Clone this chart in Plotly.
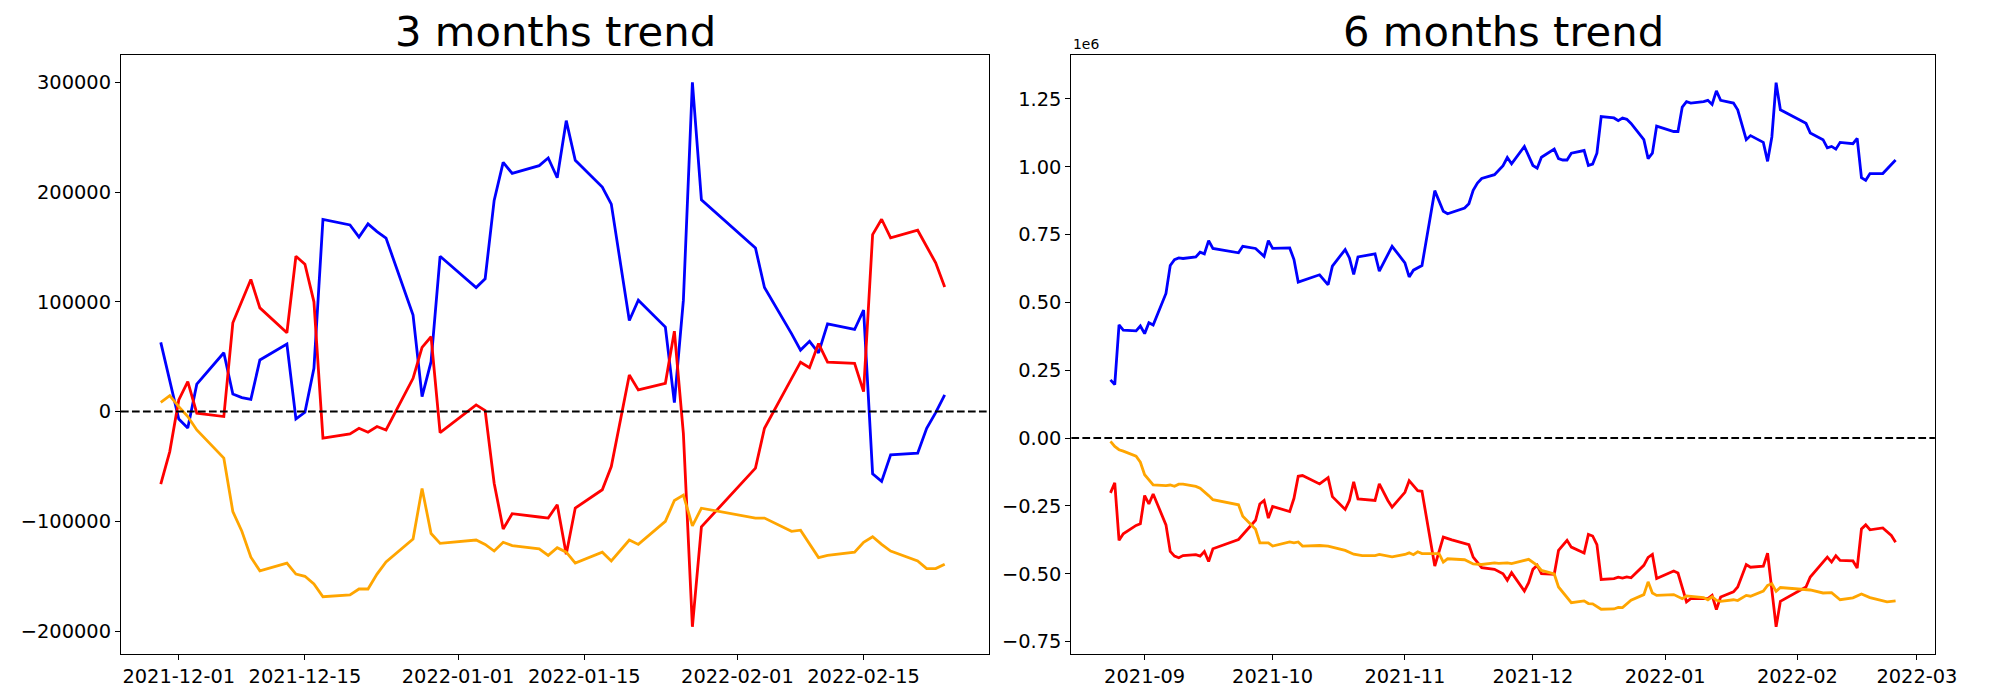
import plotly.graph_objects as go

# ---------------- 3 months trend (left) ----------------
dates3 = ["2021-11-29","2021-11-30","2021-12-01","2021-12-02","2021-12-03","2021-12-06","2021-12-07",
          "2021-12-08","2021-12-09","2021-12-10","2021-12-13","2021-12-14","2021-12-15","2021-12-16",
          "2021-12-17","2021-12-20","2021-12-21","2021-12-22","2021-12-23","2021-12-24","2021-12-27",
          "2021-12-28","2021-12-29","2021-12-30","2022-01-03","2022-01-04","2022-01-05","2022-01-06",
          "2022-01-07","2022-01-10","2022-01-11","2022-01-12","2022-01-13","2022-01-14","2022-01-17",
          "2022-01-18","2022-01-20","2022-01-21","2022-01-24","2022-01-25","2022-01-26","2022-01-27",
          "2022-01-28","2022-02-03","2022-02-04","2022-02-07","2022-02-08","2022-02-09","2022-02-10",
          "2022-02-11","2022-02-14","2022-02-15","2022-02-16","2022-02-17","2022-02-18","2022-02-21",
          "2022-02-22","2022-02-23","2022-02-24"]
blue3 = [63000, 28000, -6700, -15000, 25000, 53600, 16000, 12700, 11200, 47000, 61500, -6700, -600, 39400,
         175000, 170000, 159000, 171000, 164000, 158000, 87900, 13600, 45500, 141500, 113000, 121000, 192400,
         227000, 217000, 224000, 231000, 213000, 265000, 229000, 204500, 189000, 83000, 101500, 77000, 8200,
         101500, 300000, 193000, 149000, 113000, 71000, 56000, 64000, 53500, 80000, 74800, 92400, -56700,
         -63600, -39400, -37900, -15200, -900, 15200]
red3 = [-66000, -36400, 10600, 27300, -1500, -4500, 80900, 101500, 120300, 94500, 71800, 141500, 134200,
        100000, -24200, -20300, -15200, -18800, -13600, -16700, 30300, 58500, 68200, -19100, 6100, 1000,
        -65200, -107000, -93000, -96000, -97000, -84800, -130000, -87900, -71200, -50000, 33300, 19700, 25800,
        73300, -20000, -196000, -105000, -51500, -15200, 30000, 45000, 40000, 62000, 45000, 43900, 18200,
        161200, 175200, 158200, 165200, 150600, 135500, 113600]
orange3 = [8500, 14500, 4500, -4500, -16700, -42400, -91000, -109000, -132600, -145000, -138000, -148000,
           -150000, -157000, -168600, -167000, -161600, -161600, -148000, -137000, -116000, -70000, -111000,
           -120000, -117000, -121000, -127000, -119000, -122000, -125000, -131000, -124000, -128000, -138000,
           -128000, -136000, -117000, -121000, -100000, -81000, -76000, -104000, -88000, -97000, -97000,
           -109000, -108000, -120000, -133000, -131000, -128000, -119000, -114000, -121000, -127000, -136000,
           -143000, -143000, -139000]
ticks3 = ["2021-12-01", "2021-12-15", "2022-01-01", "2022-01-15", "2022-02-01", "2022-02-15"]

# ---------------- 6 months trend (right), values in units of 1e6 ----------------
blue6_dates = ["2021-08-24","2021-08-25","2021-08-26","2021-08-27","2021-08-30","2021-08-31","2021-09-01",
               "2021-09-02","2021-09-03","2021-09-06","2021-09-07","2021-09-08","2021-09-09","2021-09-10",
               "2021-09-13","2021-09-14","2021-09-15","2021-09-16","2021-09-17","2021-09-23","2021-09-24",
               "2021-09-27","2021-09-29","2021-09-30","2021-10-01","2021-10-05","2021-10-06","2021-10-07",
               "2021-10-12","2021-10-14","2021-10-15","2021-10-18","2021-10-19","2021-10-20","2021-10-21",
               "2021-10-25","2021-10-26","2021-10-29","2021-11-01","2021-11-02","2021-11-03","2021-11-05",
               "2021-11-08","2021-11-10","2021-11-11","2021-11-15","2021-11-16","2021-11-17","2021-11-18",
               "2021-11-19","2021-11-22","2021-11-24","2021-11-25","2021-11-26","2021-11-29","2021-11-30",
               "2021-12-01","2021-12-02","2021-12-03","2021-12-06","2021-12-07","2021-12-08","2021-12-09",
               "2021-12-10","2021-12-13","2021-12-14","2021-12-15","2021-12-16","2021-12-17","2021-12-20",
               "2021-12-21","2021-12-22","2021-12-23","2021-12-24","2021-12-27","2021-12-28","2021-12-29",
               "2021-12-30","2022-01-03","2022-01-04","2022-01-05","2022-01-06","2022-01-07","2022-01-10",
               "2022-01-11","2022-01-12","2022-01-13","2022-01-14","2022-01-17","2022-01-18","2022-01-20",
               "2022-01-21","2022-01-24","2022-01-25","2022-01-26","2022-01-27","2022-01-28","2022-02-03",
               "2022-02-04","2022-02-07","2022-02-08","2022-02-09","2022-02-10","2022-02-11","2022-02-14",
               "2022-02-15","2022-02-16","2022-02-17","2022-02-18","2022-02-21","2022-02-24"]
blue6 = [0.2145, 0.197, 0.417, 0.398, 0.395, 0.413, 0.385, 0.425, 0.417, 0.533, 0.636, 0.658, 0.664, 0.662,
         0.668, 0.685, 0.679, 0.728, 0.699, 0.683, 0.707, 0.699, 0.670, 0.728, 0.699, 0.701, 0.658, 0.575,
         0.602, 0.565, 0.634, 0.695, 0.664, 0.603, 0.668, 0.679, 0.615, 0.707, 0.646, 0.594, 0.619, 0.636,
         0.912, 0.836, 0.827, 0.848, 0.864, 0.913, 0.940, 0.957, 0.971, 1.004, 1.034, 1.011, 1.075, 1.04,
         1.005, 0.995, 1.035, 1.065, 1.03, 1.025, 1.025, 1.05, 1.06, 1.005, 1.01, 1.05, 1.185, 1.18,
         1.17, 1.18, 1.175, 1.16, 1.10, 1.03, 1.05, 1.15, 1.13, 1.13, 1.22, 1.24, 1.235, 1.24,
         1.245, 1.23, 1.28, 1.245, 1.235, 1.21, 1.10, 1.115, 1.09, 1.02, 1.11, 1.31, 1.21, 1.16,
         1.125, 1.10, 1.07, 1.075, 1.065, 1.09, 1.085, 1.105, 0.96, 0.95, 0.975, 0.975, 1.025]

red6_dates = ["2021-08-24","2021-08-25","2021-08-26","2021-08-27","2021-08-30","2021-08-31","2021-09-01",
              "2021-09-02","2021-09-03","2021-09-06","2021-09-07","2021-09-08","2021-09-09","2021-09-10",
              "2021-09-13","2021-09-14","2021-09-15","2021-09-16","2021-09-17","2021-09-23","2021-09-27",
              "2021-09-28","2021-09-29","2021-09-30","2021-10-01","2021-10-05","2021-10-06","2021-10-07",
              "2021-10-08","2021-10-12","2021-10-14","2021-10-15","2021-10-18","2021-10-19","2021-10-20",
              "2021-10-21","2021-10-25","2021-10-26","2021-10-28","2021-10-29","2021-11-01","2021-11-02",
              "2021-11-04","2021-11-05","2021-11-08","2021-11-10","2021-11-12","2021-11-16","2021-11-17",
              "2021-11-19","2021-11-22","2021-11-24","2021-11-25","2021-11-26","2021-11-29","2021-11-30",
              "2021-12-01","2021-12-02","2021-12-03","2021-12-06","2021-12-07","2021-12-09","2021-12-10",
              "2021-12-13","2021-12-14","2021-12-15","2021-12-16","2021-12-17","2021-12-20","2021-12-21",
              "2021-12-22","2021-12-23","2021-12-24","2021-12-27","2021-12-28","2021-12-29","2021-12-30",
              "2022-01-03","2022-01-04","2022-01-06","2022-01-07","2022-01-11","2022-01-12","2022-01-13",
              "2022-01-14","2022-01-17","2022-01-18","2022-01-20","2022-01-21","2022-01-24","2022-01-25",
              "2022-01-27","2022-01-28","2022-02-03","2022-02-04","2022-02-08","2022-02-09","2022-02-10",
              "2022-02-11","2022-02-14","2022-02-15","2022-02-16","2022-02-17","2022-02-18","2022-02-21",
              "2022-02-23","2022-02-24"]
red6 = [-0.202, -0.165, -0.377, -0.353, -0.322, -0.316, -0.212, -0.243, -0.206, -0.32, -0.418, -0.435,
        -0.441, -0.433, -0.43, -0.435, -0.418, -0.455, -0.408, -0.374, -0.303, -0.243, -0.230, -0.295,
        -0.252, -0.271, -0.222, -0.141, -0.138, -0.169, -0.146, -0.216, -0.263, -0.230, -0.161, -0.224,
        -0.230, -0.169, -0.230, -0.255, -0.2, -0.157, -0.194, -0.196, -0.472, -0.365, -0.375, -0.393,
        -0.439, -0.478, -0.484, -0.50, -0.524, -0.496, -0.564, -0.533, -0.484, -0.469, -0.50, -0.502,
        -0.414, -0.377, -0.402, -0.424, -0.355, -0.361, -0.393, -0.521, -0.518, -0.513, -0.516, -0.512,
        -0.515, -0.469, -0.44, -0.429, -0.518, -0.49, -0.4975, -0.604, -0.592, -0.592, -0.58, -0.632,
        -0.586, -0.567, -0.549, -0.466, -0.476, -0.472, -0.424, -0.696, -0.602, -0.549, -0.512, -0.439,
        -0.457, -0.434, -0.451, -0.453, -0.479, -0.335, -0.320, -0.338, -0.331, -0.359, -0.384]

orange6_dates = ["2021-08-24","2021-08-25","2021-08-26","2021-08-27","2021-08-30","2021-08-31","2021-09-01",
                 "2021-09-02","2021-09-03","2021-09-06","2021-09-07","2021-09-08","2021-09-09","2021-09-10",
                 "2021-09-13","2021-09-14","2021-09-15","2021-09-16","2021-09-17","2021-09-23","2021-09-24",
                 "2021-09-27","2021-09-28","2021-09-30","2021-10-01","2021-10-05","2021-10-06","2021-10-07",
                 "2021-10-08","2021-10-12","2021-10-14","2021-10-18","2021-10-20","2021-10-22","2021-10-25",
                 "2021-10-26","2021-10-29","2021-11-01","2021-11-02","2021-11-03","2021-11-04","2021-11-05",
                 "2021-11-09","2021-11-10","2021-11-11","2021-11-15","2021-11-17","2021-11-19","2021-11-22",
                 "2021-11-23","2021-11-25","2021-11-26","2021-11-30","2021-12-02","2021-12-03","2021-12-06",
                 "2021-12-07","2021-12-10","2021-12-13","2021-12-14","2021-12-15","2021-12-17","2021-12-20",
                 "2021-12-21","2021-12-22","2021-12-24","2021-12-27","2021-12-28","2021-12-29","2021-12-30",
                 "2022-01-03","2022-01-05","2022-01-06","2022-01-10","2022-01-11","2022-01-12","2022-01-13",
                 "2022-01-14","2022-01-17","2022-01-18","2022-01-20","2022-01-21","2022-01-24","2022-01-25",
                 "2022-01-26","2022-01-27","2022-01-28","2022-02-03","2022-02-04","2022-02-07","2022-02-09",
                 "2022-02-11","2022-02-14","2022-02-16","2022-02-18","2022-02-22","2022-02-24"]
orange6 = [-0.012, -0.031, -0.043, -0.048, -0.067, -0.089, -0.135, -0.153, -0.173, -0.175, -0.173, -0.178,
           -0.170, -0.170, -0.178, -0.185, -0.197, -0.212, -0.227, -0.246, -0.288, -0.336, -0.386, -0.386,
           -0.398, -0.383, -0.386, -0.383, -0.398, -0.396, -0.398, -0.414, -0.428, -0.433, -0.433, -0.429,
           -0.4375, -0.429, -0.423, -0.430, -0.419, -0.426, -0.426, -0.457, -0.445, -0.4485, -0.464, -0.466,
           -0.46, -0.462, -0.46, -0.463, -0.447, -0.469, -0.488, -0.501, -0.549, -0.607, -0.60, -0.61,
           -0.611, -0.631, -0.63, -0.624, -0.625, -0.598, -0.577, -0.53, -0.571, -0.58, -0.577, -0.592,
           -0.582, -0.588, -0.596, -0.585, -0.598, -0.602, -0.596, -0.599, -0.58, -0.583, -0.564, -0.543,
           -0.537, -0.565, -0.551, -0.559, -0.56, -0.571, -0.57, -0.596, -0.589, -0.575, -0.588, -0.604, -0.60]
ticks6 = ["2021-09-01", "2021-10-01", "2021-11-01", "2021-12-01", "2022-01-01", "2022-02-01", "2022-03-01"]

BLUE, RED, ORANGE = "#0000ff", "#ff0000", "#ffa500"
LW = 2.8
FONT = "DejaVu Sans"

fig = go.Figure()
for xs, ys, c in [(dates3, blue3, BLUE), (dates3, red3, RED), (dates3, orange3, ORANGE)]:
    fig.add_trace(go.Scatter(x=xs, y=ys, mode="lines", line=dict(color=c, width=LW),
                             xaxis="x", yaxis="y", hoverinfo="skip"))
for xs, ys, c in [(blue6_dates, blue6, BLUE), (red6_dates, red6, RED), (orange6_dates, orange6, ORANGE)]:
    fig.add_trace(go.Scatter(x=xs, y=ys, mode="lines", line=dict(color=c, width=LW),
                             xaxis="x2", yaxis="y2", hoverinfo="skip"))

axis_common = dict(showline=True, linecolor="black", linewidth=1.1, mirror=True, showgrid=False,
                   zeroline=False, ticks="outside", ticklen=5, tickwidth=1.1, tickcolor="black",
                   tickfont=dict(family=FONT, size=19.4, color="black"))

fig.update_layout(
    width=2000, height=700, margin=dict(l=0, r=0, t=0, b=0),
    paper_bgcolor="white", plot_bgcolor="white", showlegend=False,
    font=dict(family=FONT, color="black"),
    xaxis=dict(domain=[0.06115, 0.5], type="date", range=["2021-11-24 14:00", "2022-02-28 22:00"],
               tickvals=ticks3, ticktext=ticks3, anchor="y", **axis_common),
    yaxis=dict(domain=[0.0657, 0.9214], range=[-220800, 324800], dtick=100000, tick0=0,
               tickformat="d", anchor="x", **axis_common),
    xaxis2=dict(domain=[0.54165, 0.9782], type="date", range=["2021-08-14 20:00", "2022-03-05 05:00"],
                tickvals=ticks6, tickformat="%Y-%m", anchor="y2", **axis_common),
    yaxis2=dict(domain=[0.0657, 0.9214], range=[-0.796, 1.412], dtick=0.25, tick0=0,
                tickformat=".2f", anchor="x2", **axis_common),
)

for xr, yr in [("x domain", "y"), ("x2 domain", "y2")]:
    fig.add_shape(type="line", xref=xr, yref=yr, x0=0, x1=1, y0=0, y1=0,
                  line=dict(color="black", width=2, dash="7.7px,3.3px"), layer="above")

fig.add_annotation(text="3 months trend", xref="paper", yref="paper", x=0.2806, y=0.955,
                   xanchor="center", yanchor="middle", showarrow=False,
                   font=dict(family=FONT, size=41.7, color="black"))
fig.add_annotation(text="6 months trend", xref="paper", yref="paper", x=0.7599, y=0.955,
                   xanchor="center", yanchor="middle", showarrow=False,
                   font=dict(family=FONT, size=41.7, color="black"))
fig.add_annotation(text="1e6", xref="paper", yref="paper", x=0.5417, y=0.9235,
                   xanchor="left", yanchor="bottom", showarrow=False,
                   font=dict(family=FONT, size=13.9, color="black"))

fig.write_html("out.html", config={"displayModeBar": False},
               post_script="document.body.style.margin='0px';")
